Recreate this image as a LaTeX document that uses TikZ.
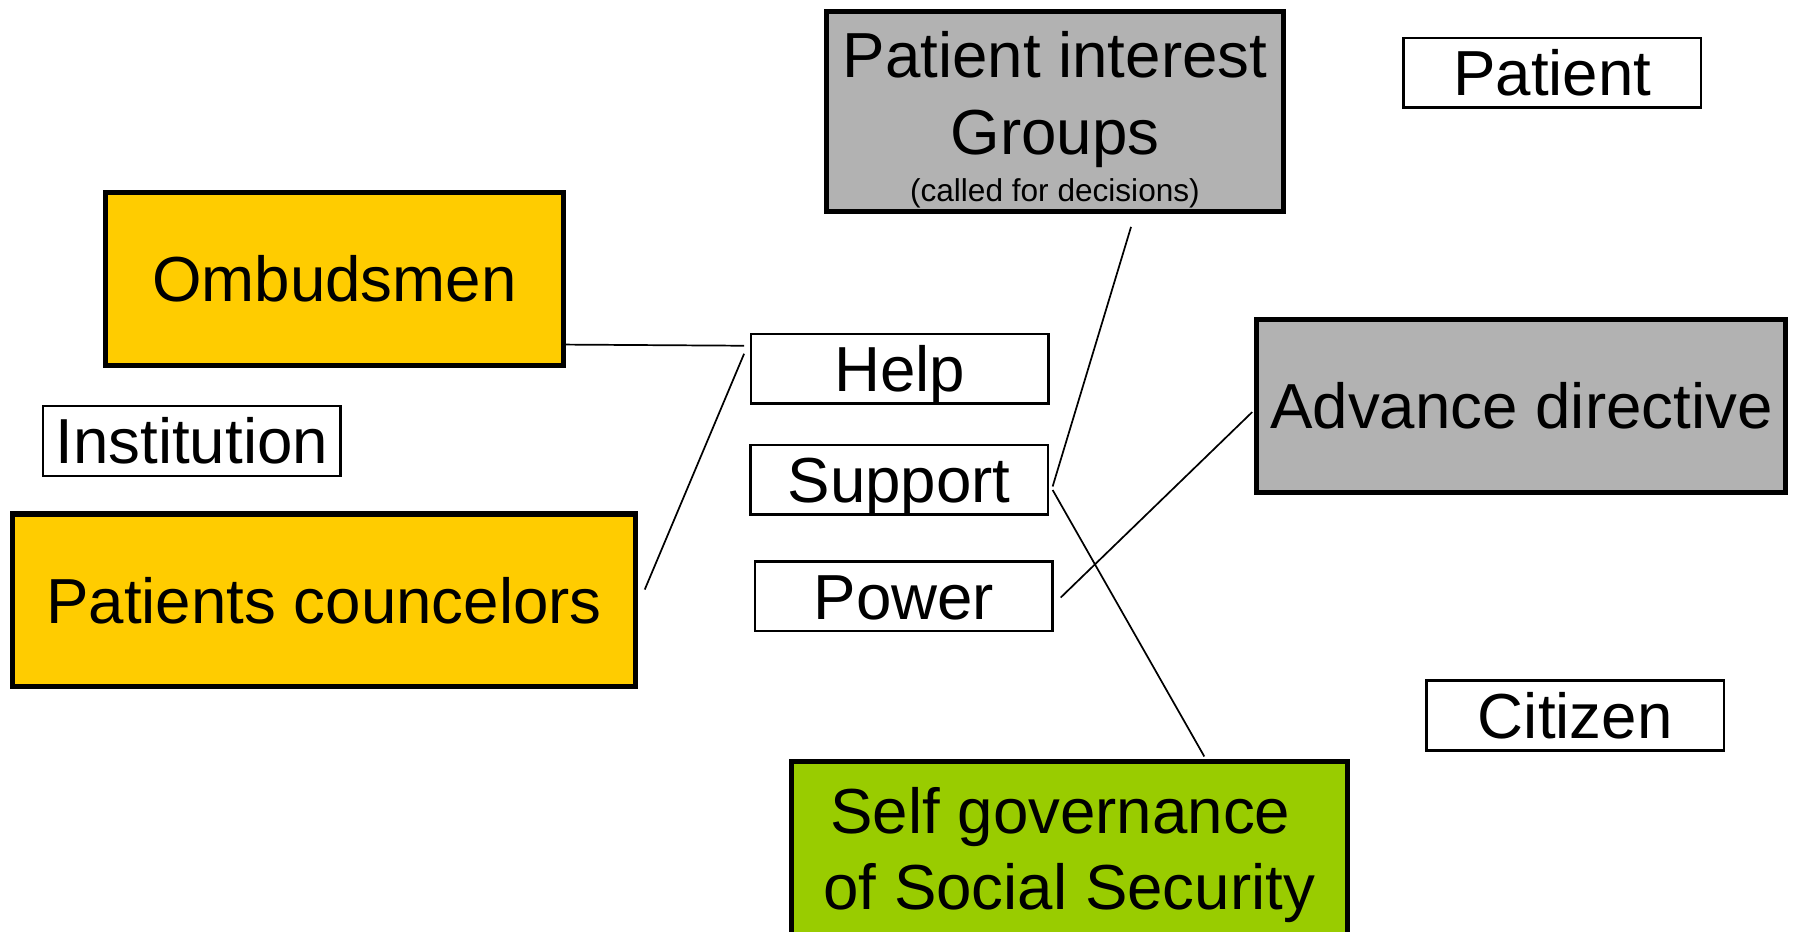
\documentclass[tikz,border=0pt]{standalone}
\usepackage{fontspec}
\setmainfont{Liberation Sans}
\usetikzlibrary{positioning, calc}

\definecolor{boxyellow}{HTML}{FFCC00}
\definecolor{boxgrey}{HTML}{B2B2B2}
\definecolor{boxgreen}{HTML}{99CC00}

\begin{document}
\begin{tikzpicture}[x=0.5pt, y=-0.5pt,
    bigbox/.style={draw, line width=2.2pt, inner sep=0pt, align=center,
      minimum height=75.5pt, font=\fontsize{27.8}{33.5}\selectfont},
    wordbox/.style={draw, line width=1pt, inner sep=0pt, minimum width=130pt,
      minimum height=30.5pt, text height=19.9pt, text depth=0pt,
      font=\fontsize{27.8}{33.5}\selectfont},
    link/.style={line width=0.75pt}]
  \useasboundingbox (0,0) rectangle (1568,814);
  \clip (0,0) rectangle (1568,814);

  % boxes
  \node[bigbox, fill=boxgrey, minimum width=199.5pt, minimum height=87.5pt] (groups) at (921.5,97.5)
    {\rule{0pt}{27pt}Patient interest\\Groups\\[-13pt]{\fontsize{13.8}{16}\selectfont (called for decisions)}};
  \node[wordbox] (patient) at (1356,63.5) {Patient};
  \node[bigbox, fill=boxyellow, minimum width=200pt] (ombud) at (292,243.5) {Ombudsmen};
  \node[wordbox] (help) at (786,322) {Help};
  \node[wordbox] (inst) at (167.5,385) {Institution};
  \node[wordbox] (support) at (785.5,419) {Support};
  \node[bigbox, fill=boxgrey, minimum width=231pt] (advance) at (1329,354.5) {Advance directive};
  \node[bigbox, fill=boxyellow, minimum width=272pt] (councel) at (283,524.5) {Patients councelors};
  \node[wordbox] (power) at (789.5,521) {Power};
  \node[wordbox] (citizen) at (1376,625) {Citizen};
  \node[bigbox, fill=boxgreen, minimum width=243pt] (selfgov) at (934,740.5)
    {\rule{0pt}{26.5pt}Self governance\hspace*{7.7pt}\\of Social Security};

  % connectors
  \draw[link] ($(ombud.east)+(0,57.5)$) -- ($(help.west)+(-5,-20)$);
  \draw[link] ($(help.west)+(-5,-13)$) -- ($(councel.east)+(6,-9.5)$);
  \draw[link] ($(groups.south)+(66.5,11)$) -- ($(support.east)+(3,6)$);
  \draw[link] ($(support.east)+(3,9)$) -- ($(selfgov.north)+(118,-2)$);
  \draw[link] ($(power.east)+(6,1)$) -- ($(advance.west)+(-2,5.5)$);
\end{tikzpicture}
\end{document}
